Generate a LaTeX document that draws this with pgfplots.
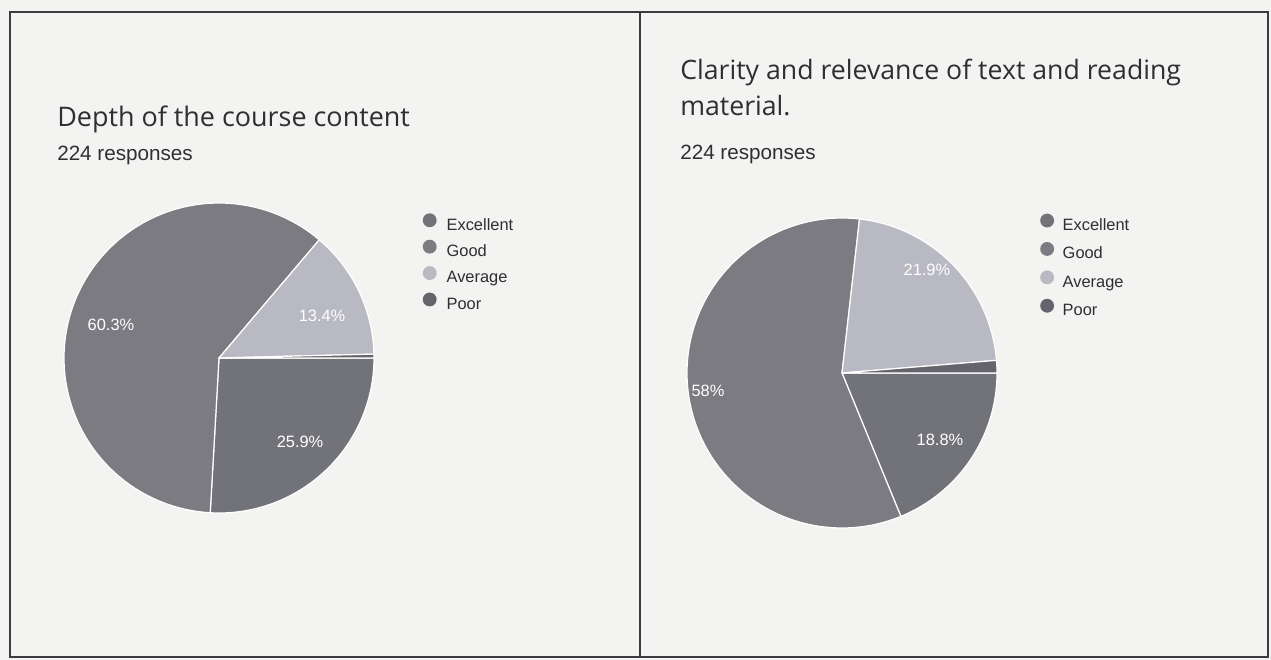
\documentclass[border=0pt]{standalone}
\usepackage{fontspec}
\usepackage{pgfplots}
\pgfplotsset{compat=1.18}
\setmainfont{Liberation Sans}
\newfontfamily\titlefont{Open Sans}
\definecolor{bg}{HTML}{F3F3F1}
\definecolor{framec}{HTML}{3C3C40}
\definecolor{tcol}{HTML}{2E2F32}
\definecolor{cE}{HTML}{727279}
\definecolor{cG}{HTML}{7B7B81}
\definecolor{cA}{HTML}{B9B9C3}
\definecolor{cP}{HTML}{64646C}
\pgfplotsset{
  dotleg/.style={legend image code/.code={\fill[draw=none] (0pt,4.3pt) circle (5.2pt);}},
  piebase/.style={anchor=center, x=116.25pt, y=116.25pt,
    xmin=-1, xmax=1, ymin=-1, ymax=1, hide axis, clip=false},
}
% start (cumulative %), value (%), colour
\newcommand{\slice}[3]{%
  \pgfmathsetmacro{\sa}{-3.6*(#1+#2)}%
  \pgfmathsetmacro{\sb}{-3.6*(#1)}%
  \edef\doslice{\noexpand\addplot[forget plot, fill=#3, draw=white, line width=0.9pt,
    domain=\sa:\sb, samples=90, variable=\noexpand\t]
    ({cos(\noexpand\t)},{sin(\noexpand\t)}) -- (0,0) -- cycle;}%
  \doslice
}
\tikzset{lbl/.style={text=white, font=\fontsize{12.3}{14}\selectfont, inner sep=0pt}}
\begin{document}
\begin{tikzpicture}[x=0.75pt,y=0.75pt]
\fill[bg] (0,0) rectangle (1271,660);
\draw[framec, line width=2.2pt] (10,3) rectangle (1268,648);
\draw[framec, line width=2.2pt] (640,3) -- (640,648);
% titles
\node[anchor=base west, inner sep=0, text=tcol, font=\titlefont\fontsize{20.2}{24}\selectfont] at (57,533) {Depth of the course content};
\node[anchor=base west, inner sep=0, text=tcol, font=\fontsize{15.5}{18}\selectfont] at (57,499) {224 responses};
\node[anchor=base west, inner sep=0, text=tcol, font=\titlefont\fontsize{20}{24}\selectfont] at (680,580) {Clarity and relevance of text and reading};
\node[anchor=base west, inner sep=0, text=tcol, font=\titlefont\fontsize{20}{24}\selectfont] at (680,544.5) {material.};
\node[anchor=base west, inner sep=0, text=tcol, font=\fontsize{15.5}{18}\selectfont] at (680,500.4) {224 responses};

% ---- Pie 1: Depth of the course content
\begin{axis}[piebase, at={(164.25pt,226.5pt)},
  legend style={draw=none, fill=none, inner sep=0pt, at={(axis cs:1.313,0.935)}, anchor=north west,
    font=\fontsize{12.3}{14}\selectfont, text=tcol, row sep=3.3pt,
    nodes={inner sep=1pt, text height=9pt, text depth=3pt},
    /tikz/every odd column/.append style={column sep=6.5pt}},
  legend cell align=left]
\slice{0}{25.9}{cE}
\slice{25.9}{60.3}{cG}
\slice{86.2}{13.4}{cA}
\slice{99.6}{0.4}{cP}
\node[lbl] at (axis cs:-0.697,0.213) {60.3\%};
\node[lbl] at (axis cs:0.665,0.271) {13.4\%};
\node[lbl] at (axis cs:0.523,-0.542) {25.9\%};
\addlegendimage{dotleg, fill=cE}\addlegendentry{Excellent}
\addlegendimage{dotleg, fill=cG}\addlegendentry{Good}
\addlegendimage{dotleg, fill=cA}\addlegendentry{Average}
\addlegendimage{dotleg, fill=cP}\addlegendentry{Poor}
\end{axis}

% ---- Pie 2: Clarity and relevance
\begin{axis}[piebase, at={(631.5pt,215.25pt)},
  legend style={draw=none, fill=none, inner sep=0pt, at={(axis cs:1.277,1.030)}, anchor=north west,
    font=\fontsize{12.3}{14}\selectfont, text=tcol, row sep=4.8pt,
    nodes={inner sep=1pt, text height=9pt, text depth=3pt},
    /tikz/every odd column/.append style={column sep=5.5pt}},
  legend cell align=left]
\slice{0}{18.8}{cE}
\slice{18.8}{58.0}{cG}
\slice{76.8}{21.9}{cA}
\slice{98.7}{1.3}{cP}
\node[lbl] at (axis cs:-0.865,-0.116) {58\%};
\node[lbl] at (axis cs:0.548,0.665) {21.9\%};
\node[lbl] at (axis cs:0.632,-0.432) {18.8\%};
\addlegendimage{dotleg, fill=cE}\addlegendentry{Excellent}
\addlegendimage{dotleg, fill=cG}\addlegendentry{Good}
\addlegendimage{dotleg, fill=cA}\addlegendentry{Average}
\addlegendimage{dotleg, fill=cP}\addlegendentry{Poor}
\end{axis}
\end{tikzpicture}
\end{document}
